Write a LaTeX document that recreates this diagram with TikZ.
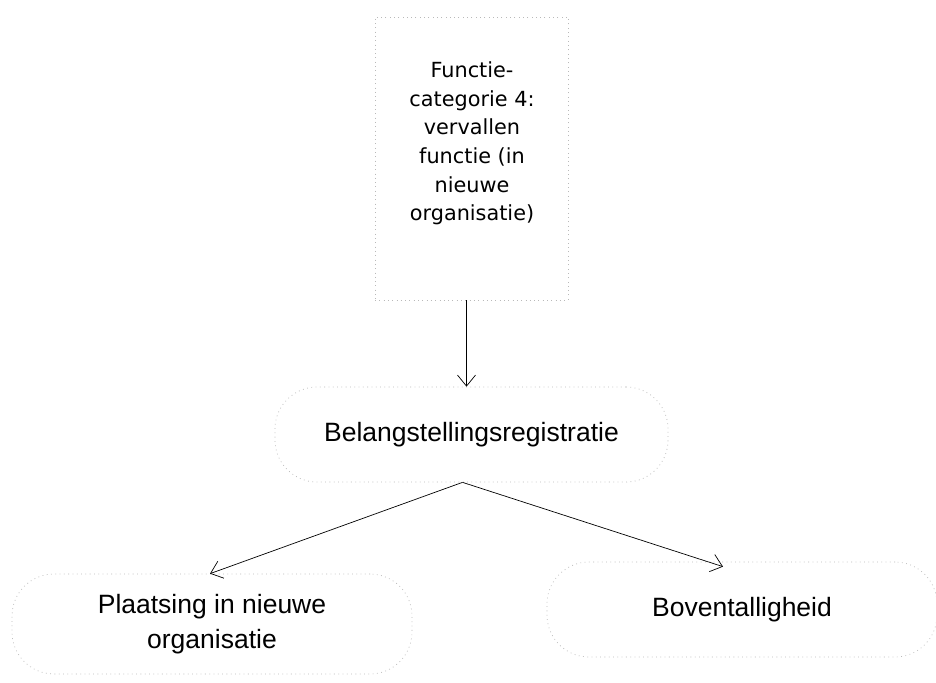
\documentclass[tikz,border=0pt]{standalone}
\usepackage{fontspec}
\setmainfont{Liberation Sans}
\newfontfamily\verd{DejaVu Sans}
\usetikzlibrary{arrows.meta}
\begin{document}
\begin{tikzpicture}[x=1pt,y=1pt,
  faint/.style={draw=gray!55, line width=0.7pt, dash pattern=on 0.8pt off 3.5pt},
  pill/.style={faint, rounded corners=42pt, inner sep=0pt},
  conn/.style={-{Straight Barb[length=11pt,width=18pt]}, line width=0.7pt, black}]
\useasboundingbox (0,0) rectangle (936,-682);
\fill[white] (0,0) rectangle (936,-682);
\node[faint, minimum width=193pt, minimum height=283pt, inner sep=0pt] (top) at (471.5,-158.5) {};
\node[align=center, font=\verd\fontsize{20.8}{28.6}\selectfont] (toptext) at (472,-143.5)
  {Functie-\\categorie 4:\\vervallen\\functie (in\\nieuwe\\organisatie)};
\node[pill, minimum width=393pt, minimum height=95pt, font=\fontsize{26.5}{30}\selectfont] (mid) at (471.5,-434.5) {Belangstellingsregistratie};
\node[pill, minimum width=400pt, minimum height=100pt, align=center, font=\fontsize{26.5}{35}\selectfont] (left) at (212,-624) {Plaatsing in nieuwe\\organisatie};
\node[pill, minimum width=390pt, minimum height=95pt, font=\fontsize{26.5}{30}\selectfont] (right) at (742,-609.5) {Boventalligheid};
\draw[conn] ([xshift=-5pt]top.south) -- ([xshift=-5pt]mid.north);
\coordinate (midb) at ([xshift=-9pt]mid.south);
\draw[conn] (midb) -- (left.north -| 210,0);
\draw[conn] (midb) -- ([xshift=-19pt,yshift=-5pt]right.north);
\end{tikzpicture}
\end{document}
